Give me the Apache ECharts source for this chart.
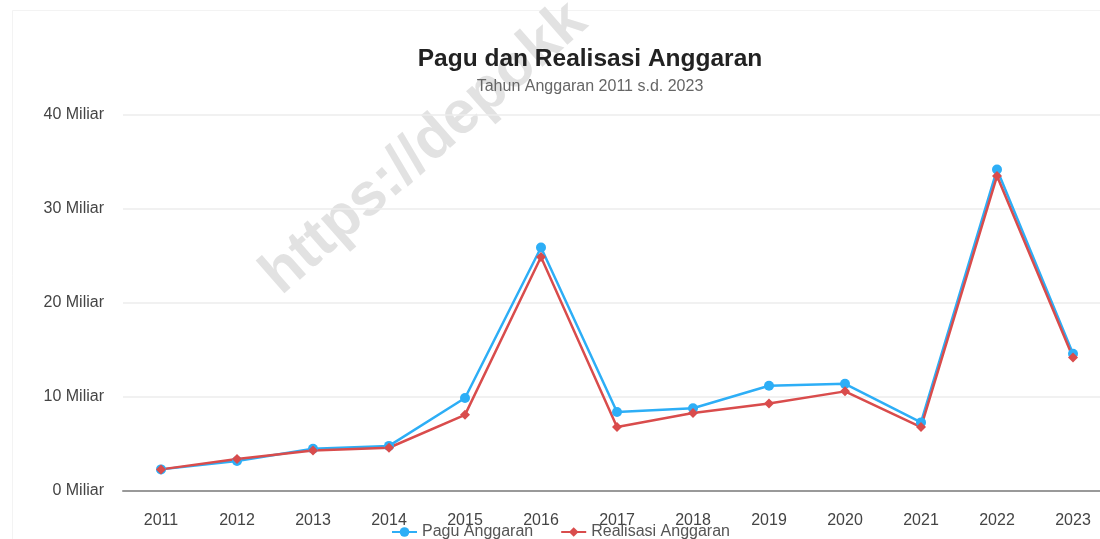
<!DOCTYPE html>
<html>
<head>
<meta charset="utf-8">
<script src="https://cdn.jsdelivr.net/npm/echarts@6/dist/echarts.min.js"></script>
<style>
html, body { margin: 0; padding: 0; background: #fff; overflow: hidden; }
#chart { width: 1111px; height: 539px; }
</style>
</head>
<body>
<div id="chart"></div>
<script>
// tahun anggaran
var years = ['2011','2012','2013','2014','2015','2016','2017','2018','2019','2020','2021','2022','2023'];
// nilai dalam miliar rupiah
var pagu = [2.3, 3.2, 4.5, 4.8, 9.9, 25.9, 8.4, 8.8, 11.2, 11.4, 7.3, 34.2, 14.6];
var realisasi = [2.3, 3.4, 4.3, 4.6, 8.1, 24.9, 6.8, 8.3, 9.3, 10.6, 6.8, 33.5, 14.2];
var yTicks = [0, 10, 20, 30, 40];

var chart = echarts.init(document.getElementById('chart'));
chart.setOption({
    backgroundColor: '#fff',
    textStyle: { fontFamily: '"Liberation Sans", Arial, sans-serif' },
    graphic: [
        {
            type: 'rect', z: -10, silent: true,
            shape: { x: 12.5, y: 10.5, width: 1200, height: 600 },
            style: { fill: 'none', stroke: '#f3f3f3', lineWidth: 1 }
        },
        {
            type: 'text', z: -5, silent: true,
            x: 290, y: 306, rotation: 0.72,
            style: {
                text: 'https://depokk',
                fill: '#e2e2e2',
                font: 'bold 60px "Liberation Sans", Arial, sans-serif',
                textAlign: 'left', textVerticalAlign: 'bottom'
            }
        }
    ],
    title: [
        {
            text: 'Pagu dan Realisasi Anggaran',
            left: 590, top: 47, padding: 0, textAlign: 'center',
            textStyle: { fontSize: 24.5, fontWeight: 'bold', color: '#222' }
        },
        {
            text: 'Tahun Anggaran 2011 s.d. 2023',
            left: 590, top: 79, padding: 0, textAlign: 'center',
            textStyle: { fontSize: 16, fontWeight: 'normal', color: '#666' }
        }
    ],
    legend: {
        left: 386, top: 519, itemGap: 27, itemWidth: 25, itemHeight: 12,
        textStyle: { fontSize: 16, color: '#555' },
        data: ['Pagu Anggaran', 'Realisasi Anggaran']
    },
    grid: { left: 123, right: 0, top: 115, bottom: 48, containLabel: false },
    xAxis: {
        type: 'category',
        data: years,
        boundaryGap: true,
        axisLine: { lineStyle: { color: '#999', width: 2 } },
        axisTick: { show: false },
        axisLabel: { fontSize: 16, color: '#444', margin: 22 }
    },
    yAxis: {
        type: 'value',
        min: yTicks[0], max: yTicks[yTicks.length - 1], interval: 10,
        axisLine: { show: false },
        axisTick: { show: false },
        axisLabel: { fontSize: 16, color: '#444', margin: 19, formatter: '{value} Miliar' },
        splitLine: { lineStyle: { color: '#ececec', width: 1.5 } }
    },
    series: [
        {
            name: 'Pagu Anggaran',
            type: 'line',
            data: pagu,
            symbol: 'circle', symbolSize: 10,
            itemStyle: { color: '#2daef6' },
            lineStyle: { color: '#2daef6', width: 2.5 }
        },
        {
            name: 'Realisasi Anggaran',
            type: 'line',
            data: realisasi,
            symbol: 'diamond', symbolSize: 10,
            itemStyle: { color: '#d94c4c' },
            lineStyle: { color: '#d94c4c', width: 2.5 }
        }
    ]
});
</script>
</body>
</html>
